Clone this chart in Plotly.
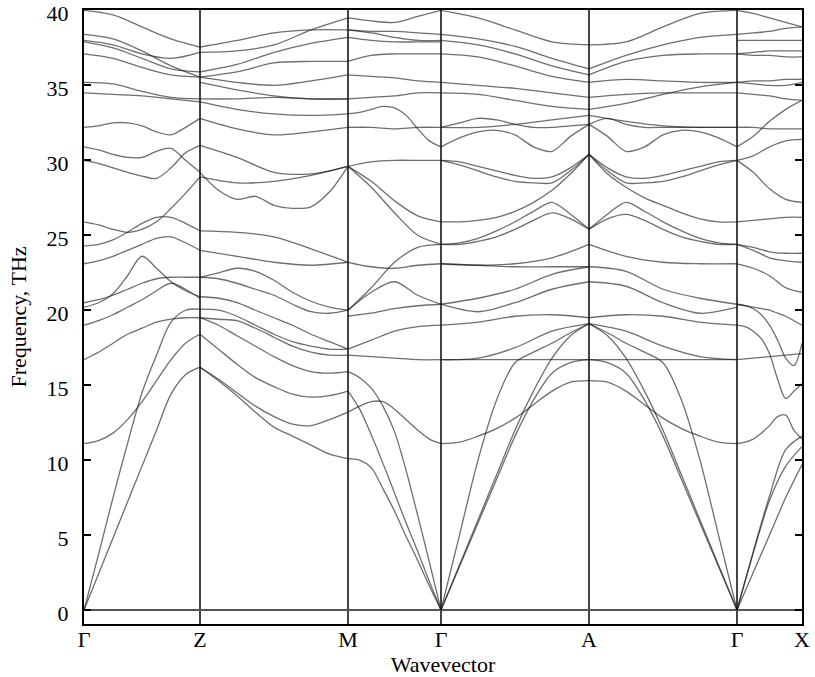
import plotly.graph_objects as go
import numpy as np

# High-symmetry points along the path and their cumulative path distances
k_labels = ["Γ", "Z", "M", "Γ", "A", "Γ", "X"]
k_dist = [0.0, 1.16, 2.64, 3.57, 5.05, 6.53, 7.18]

# Phonon frequencies (THz) per segment; each band is sampled evenly along its segment
bands_GZ = [
    [40.0, 39.7, 38.9, 38.1, 37.55],
    [38.4, 38.1, 37.3, 36.3, 35.55],
    [38.0, 37.7, 37.1, 36.8, 37.2],
    [37.9, 37.5, 36.8, 36.1, 35.9],
    [37.1, 36.8, 36.2, 35.7, 35.55],
    [35.2, 35.1, 34.6, 34.2, 34.1],
    [34.5, 34.4, 34.3, 34.1, 33.9],
    [32.2, 32.3, 32.5, 32.5, 32.3, 31.9, 31.7, 32.2, 32.8],
    [30.9, 30.7, 30.4, 30.2, 30.2, 30.6, 30.8, 30.0, 29.2],
    [30.0, 29.8, 29.5, 29.2, 28.95, 28.8, 29.5, 30.5, 31.0],
    [25.9, 25.7, 25.4, 25.2, 25.4, 25.9, 26.8, 27.8, 28.9],
    [24.3, 24.4, 24.7, 25.2, 25.8, 26.2, 26.2, 25.8, 25.3],
    [23.1, 23.3, 23.6, 24.0, 24.4, 24.8, 24.9, 24.5, 24.0],
    [20.2, 20.5, 21.1, 22.3, 23.6, 22.8, 21.9, 21.3, 20.9],
    [20.5, 20.7, 21.0, 21.4, 21.8, 22.1, 22.2, 22.2, 22.2],
    [19.0, 19.3, 19.7, 20.2, 20.7, 21.3, 21.8, 21.4, 20.8],
    [16.7, 17.2, 17.8, 18.4, 18.8, 19.2, 19.4, 19.5, 19.5],
    [11.1, 11.3, 11.8, 12.7, 13.9, 15.3, 16.7, 17.8, 18.4],
    [0.0, 3.7, 7.5, 11.1, 14.5, 17.0, 19.2, 20.0, 20.07],
    [0.0, 2.4, 4.8, 7.2, 9.6, 12.0, 14.4, 15.7, 16.2],
]

bands_ZM = [
    [37.55, 38.0, 38.5, 38.7, 38.7],
    [37.2, 37.3, 37.7, 38.7, 39.5],
    [35.9, 36.4, 37.2, 37.8, 38.2],
    [35.55, 35.9, 36.5, 36.6, 36.6],
    [35.55, 35.2, 35.0, 35.3, 35.7],
    [35.2, 34.7, 34.3, 34.1, 34.1],
    [34.1, 34.1, 34.2, 34.1, 34.1],
    [33.9, 33.4, 33.1, 33.0, 33.1],
    [32.8, 32.1, 31.7, 31.9, 32.2],
    [31.0, 30.2, 29.2, 29.1, 29.6],
    [29.2, 28.0, 27.4, 27.6, 27.0, 26.8, 26.9, 27.9, 29.6],
    [28.9, 28.5, 28.6, 29.0, 29.6],
    [25.3, 25.2, 24.9, 24.1, 23.2],
    [24.0, 23.6, 23.2, 23.0, 23.2],
    [22.2, 22.5, 22.8, 22.6, 22.0, 21.2, 20.6, 20.2, 20.0],
    [22.2, 22.1, 21.8, 21.4, 21.0, 20.4, 19.9, 19.8, 20.0],
    [20.9, 20.8, 20.5, 20.0, 19.5, 19.0, 18.4, 17.9, 17.4],
    [20.07, 20.0, 19.6, 19.0, 18.4, 17.9, 17.6, 17.4, 17.4],
    [19.5, 19.4, 19.3, 18.8, 18.2, 17.6, 17.2, 17.0, 17.0],
    [19.5, 19.0, 18.3, 17.6, 16.9, 16.3, 15.9, 15.8, 15.9],
    [18.4, 17.4, 16.4, 15.5, 14.9, 14.4, 14.2, 14.3, 14.6],
    [16.2, 15.4, 14.5, 13.6, 12.9, 12.4, 12.3, 12.7, 13.2],
    [16.2, 15.3, 14.3, 13.2, 12.2, 11.6, 11.0, 10.4, 10.1],
]

bands_MG = [
    [39.5, 39.3, 39.2, 39.6, 40.0],
    [38.7, 38.6, 38.6, 38.5, 38.4],
    [38.7, 38.5, 38.2, 38.0, 38.0],
    [38.2, 38.0, 37.9, 37.9, 37.9],
    [36.6, 37.0, 37.1, 37.1, 37.1],
    [35.7, 35.6, 35.5, 35.3, 35.2],
    [34.1, 34.2, 34.3, 34.5, 34.5],
    [33.1, 33.2, 33.4, 33.6, 33.5, 33.0, 32.1, 31.3, 30.9],
    [32.2, 32.2, 32.1, 32.2, 32.2],
    [29.6, 29.9, 30.0, 30.0, 30.0],
    [29.6, 28.6, 27.3, 26.3, 25.9],
    [29.6, 28.2, 26.5, 25.0, 24.4],
    [23.2, 22.9, 22.8, 23.0, 23.1],
    [20.0, 21.5, 23.2, 24.2, 24.4],
    [20.0, 21.2, 21.9, 21.0, 20.4],
    [19.6, 19.8, 20.1, 20.3, 20.4],
    [17.4, 18.0, 18.6, 18.9, 19.0],
    [17.0, 16.9, 16.8, 16.7, 16.7],
    [15.9, 15.5, 14.8, 13.6, 11.9, 9.3, 6.3, 3.2, 0.0],
    [14.6, 13.4, 11.7, 9.8, 7.8, 5.8, 3.9, 1.9, 0.0],
    [13.2, 13.6, 13.9, 13.9, 13.4, 12.7, 12.0, 11.4, 11.1],
    [10.1, 10.0, 9.5, 8.1, 6.6, 4.9, 3.3, 1.6, 0.0],
]

bands_GA = [
    [40.0, 39.5, 38.7, 37.9, 37.7],
    [38.4, 38.1, 37.6, 36.8, 36.1],
    [38.0, 37.7, 37.1, 36.3, 35.7],
    [37.1, 36.9, 36.3, 35.6, 35.2],
    [35.2, 35.0, 34.8, 34.5, 34.2],
    [34.5, 34.4, 34.0, 33.6, 33.4],
    [32.2, 32.5, 32.8, 32.7, 32.4, 32.2, 32.2, 32.3, 32.4],
    [32.2, 32.2, 32.4, 32.7, 33.0],
    [30.9, 31.5, 31.9, 32.0, 31.7, 30.9, 30.6, 31.6, 32.4],
    [30.0, 29.7, 29.3, 28.9, 28.6, 28.5, 28.5, 29.3, 30.4],
    [30.0, 29.9, 29.6, 29.3, 29.0, 28.8, 28.9, 29.5, 30.4],
    [25.9, 25.9, 26.0, 26.2, 26.6, 27.2, 28.0, 29.1, 30.4],
    [24.4, 24.5, 24.8, 25.3, 25.9, 26.6, 27.2, 26.4, 25.4],
    [24.4, 24.4, 24.6, 24.9, 25.4, 26.0, 26.5, 26.1, 25.4],
    [23.1, 23.0, 23.1, 23.5, 24.4],
    [23.1, 23.0, 22.9, 22.9, 22.9],
    [20.4, 20.8, 21.4, 22.4, 22.9],
    [20.4, 19.9, 20.5, 21.4, 21.9],
    [19.0, 19.2, 19.6, 19.7, 19.5],
    [16.7, 16.8, 17.5, 18.6, 19.1],
    [16.7, 16.7, 16.7, 16.7, 16.7],
    [11.1, 11.2, 11.6, 12.1, 12.8, 13.7, 14.6, 15.2, 15.3],
    [0.0, 5.0, 10.0, 14.0, 16.5, 17.2, 17.8, 18.5, 19.1],
    [0.0, 3.0, 6.0, 9.0, 12.0, 14.6, 16.8, 18.3, 19.1],
    [0.0, 2.9, 5.8, 8.7, 11.6, 14.0, 15.8, 16.5, 16.7],
]

bands_AG = [
    [37.7, 37.9, 38.9, 39.8, 40.0],
    [36.1, 37.0, 37.7, 38.2, 38.4],
    [35.7, 36.6, 37.0, 37.1, 37.1],
    [35.2, 35.4, 35.3, 35.2, 35.2],
    [34.2, 34.4, 34.5, 34.5, 34.5],
    [33.4, 33.8, 34.4, 34.9, 35.2],
    [32.4, 32.8, 32.4, 32.2, 32.2, 32.2, 32.2, 32.2, 32.2],
    [33.0, 32.6, 32.3, 32.2, 32.2],
    [32.4, 31.6, 30.6, 30.9, 31.7, 32.0, 31.9, 31.5, 30.9],
    [30.4, 29.3, 28.5, 28.5, 28.6, 28.9, 29.3, 29.7, 30.0],
    [30.4, 29.5, 28.9, 28.8, 29.0, 29.3, 29.6, 29.9, 30.0],
    [30.4, 29.1, 28.2, 27.5, 27.0, 26.5, 26.1, 25.9, 25.9],
    [25.4, 26.4, 27.2, 26.6, 25.9, 25.3, 24.8, 24.5, 24.4],
    [25.4, 26.1, 26.4, 26.0, 25.4, 24.9, 24.6, 24.4, 24.4],
    [24.4, 23.6, 23.2, 23.1, 23.1],
    [22.9, 22.6, 21.4, 20.8, 20.4],
    [21.9, 21.6, 20.5, 19.8, 20.2],
    [19.5, 19.7, 19.6, 19.2, 19.0],
    [19.1, 18.6, 17.6, 16.9, 16.7],
    [16.7, 16.7, 16.7, 16.7, 16.7],
    [15.3, 15.2, 14.6, 13.7, 12.8, 12.1, 11.6, 11.2, 11.1],
    [19.1, 18.5, 17.8, 17.2, 16.5, 14.0, 10.0, 5.0, 0.0],
    [19.1, 18.3, 16.8, 14.6, 12.0, 9.0, 6.0, 3.0, 0.0],
    [16.7, 16.5, 15.8, 14.0, 11.6, 8.7, 5.8, 2.9, 0.0],
]

bands_GX = [
    [40.0, 39.8, 39.5, 39.2, 38.9],
    [38.4, 38.5, 38.6, 38.8, 38.9],
    [38.0, 38.0, 38.0, 38.0, 38.0],
    [37.1, 37.2, 37.3, 37.3, 37.3],
    [37.1, 37.0, 37.0, 36.9, 36.9],
    [35.2, 35.3, 35.3, 35.4, 35.4],
    [35.2, 35.1, 35.0, 35.0, 35.2],
    [34.5, 34.4, 34.3, 34.1, 34.0],
    [32.2, 32.2, 32.1, 32.1, 32.1],
    [30.9, 31.6, 32.6, 33.4, 34.0],
    [30.0, 30.3, 30.9, 31.3, 31.4],
    [30.0, 29.2, 28.1, 27.4, 27.2],
    [25.9, 26.0, 26.1, 26.2, 26.2],
    [24.4, 24.0, 23.5, 23.3, 23.2],
    [24.4, 24.2, 23.9, 23.8, 23.8],
    [23.1, 22.8, 22.3, 21.5, 21.2],
    [20.4, 20.3, 20.1, 19.7, 19.0, 18.0, 16.8, 16.3, 17.8],
    [20.4, 20.3, 20.2, 20.1, 20.0, 19.8, 19.6, 19.3, 19.0],
    [19.0, 18.9, 18.6, 18.1, 17.1, 15.4, 14.1, 14.6, 15.1],
    [16.7, 16.8, 16.9, 17.0, 17.1],
    [11.1, 11.2, 11.4, 11.8, 12.3, 12.9, 13.0, 12.0, 11.4],
    [0.0, 2.5, 5.0, 7.5, 9.7],
    [0.0, 3.8, 7.3, 9.6, 10.9],
    [0.0, 3.9, 7.6, 10.7, 11.6],
]

segments = [bands_GZ, bands_ZM, bands_MG, bands_GA, bands_AG, bands_GX]

SERIF = "Liberation Serif, Times New Roman, serif"
band_color = "rgba(25,25,25,0.63)"

fig = go.Figure()
for i, seg in enumerate(segments):
    k0, k1 = k_dist[i], k_dist[i + 1]
    for band in seg:
        ks = np.linspace(k0, k1, len(band))
        fig.add_trace(go.Scatter(
            x=ks, y=band, mode="lines",
            line=dict(color=band_color, width=1.3, shape="spline", smoothing=0.9),
            hoverinfo="skip", showlegend=False,
        ))

fig.update_layout(
    width=815, height=677,
    margin=dict(l=84, r=13, t=10, b=53, autoexpand=False),
    paper_bgcolor="white", plot_bgcolor="white",
    font=dict(family=SERIF, size=22, color="black"),
    showlegend=False,
)
fig.update_xaxes(
    range=[k_dist[0], k_dist[-1]], automargin=False,
    tickmode="array", tickvals=k_dist, ticktext=k_labels,
    ticks="", showgrid=True, gridcolor="#444444", gridwidth=1.5,
    showline=True, linecolor="black", linewidth=2, mirror=True,
    zeroline=False, ticklabelstandoff=-5, ticklabeloverflow="allow",
    tickfont=dict(family=SERIF, size=22, color="black"),
    title=dict(text="Wavevector", font=dict(family=SERIF, size=22), standoff=0),
)
fig.update_yaxes(
    range=[-0.933, 40.03], automargin=False,
    tickmode="array", tickvals=[0, 5, 10, 15, 20, 25, 30, 35, 40],
    ticks="inside", ticklen=7, tickwidth=1.5, tickcolor="black",
    showgrid=False, ticklabelstandoff=9, ticklabelshift=3,
    ticklabeloverflow="allow",
    showline=True, linecolor="black", linewidth=2, mirror="ticks",
    zeroline=True, zerolinecolor="#555555", zerolinewidth=1.5,
    tickfont=dict(family=SERIF, size=22, color="black"),
    title=dict(text="Frequency, THz", font=dict(family=SERIF, size=22), standoff=14),
)

fig.write_html(
    "out.html",
    config={"displayModeBar": False},
    post_script="document.body.style.margin='0px';document.body.style.overflow='hidden';",
)
